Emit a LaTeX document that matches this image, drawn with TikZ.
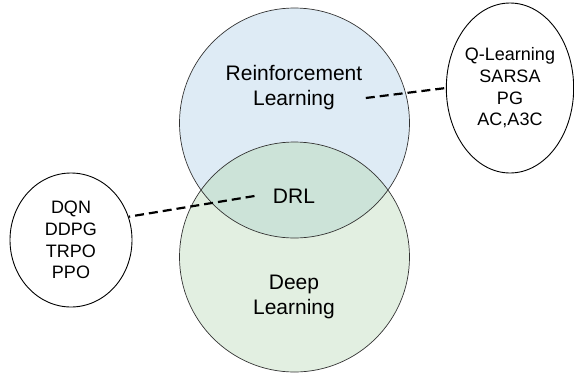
\documentclass[tikz,border=0pt]{standalone}
\usepackage{fontspec}
\setmainfont{Liberation Sans}
\usetikzlibrary{shapes.geometric}
\definecolor{rlblue}{HTML}{DEEBF5}
\definecolor{dlgreen}{HTML}{E2EFE1}
\definecolor{drlmix}{HTML}{CCE3D8}
\begin{document}
\begin{tikzpicture}[x=1pt,y=-1pt,
    big/.style={font=\fontsize{21}{25}\selectfont,align=center},
    algo/.style={draw,ellipse,inner sep=0pt,line width=0.9pt,font=\fontsize{18}{21.7}\selectfont,align=center},
    link/.style={line width=2.2pt,dash pattern=on 9pt off 5pt}]
    \useasboundingbox (0,0) rectangle (574,376);
    \fill[rlblue] (294.5,123) circle (115);
    \fill[dlgreen] (294.5,257) circle (115);
    \begin{scope}
        \clip (294.5,123) circle (115);
        \fill[drlmix] (294.5,257) circle (115);
    \end{scope}
    \draw[black!80,line width=0.7pt] (294.5,123) circle (115)
    (294.5,257) circle (115);
    \node[big] (rl) at (294,88) {Reinforcement\\Learning};
    \node[big] (drl) at (294,196) {DRL};
    \node[big] (dl) at (294,297) {Deep\\Learning};
    \node[algo,minimum width=126pt,minimum height=170pt] (algr) at (510,88) {Q-Learning\\SARSA\\PG\\AC,A3C};
    \node[algo,minimum width=122pt,minimum height=134pt] (algl) at (71,240) {DQN\\DDPG\\TRPO\\PPO};
    \draw[link] ([yshift=-10pt]rl.east) -- (algr.west);
    \draw[link] ([xshift=-15pt]drl.west) -- (algl.22);
\end{tikzpicture}
\end{document}
